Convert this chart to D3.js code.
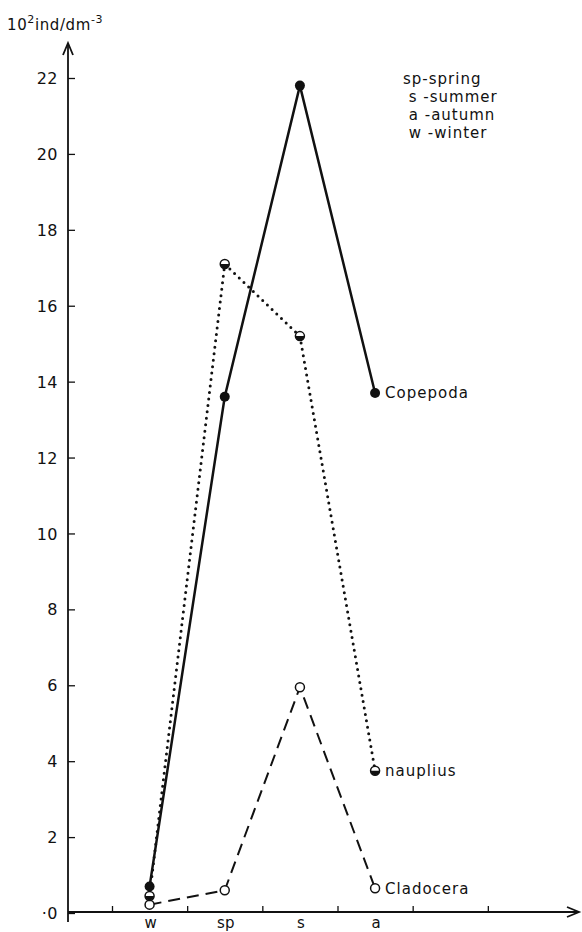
<!DOCTYPE html>
<html>
<head>
<meta charset="utf-8">
<script src="https://cdn.jsdelivr.net/npm/d3@7"></script>
<style>
  body { margin: 0; background: #fff; overflow: hidden; }
  text { font-family: "DejaVu Sans", sans-serif; fill: #111; }
</style>
</head>
<body>
<div id="svg"></div>
<script>
// datos del grafico
const estaciones = ["w", "sp", "s", "a"];
const copepoda = [0.7, 13.6, 21.8, 13.7];
const nauplius = [0.45, 17.1, 15.2, 3.75];
const cladocera = [0.22, 0.6, 5.95, 0.65];
const y_ticks = [0, 2, 4, 6, 8, 10, 12, 14, 16, 18, 20, 22];
const leyenda = ["sp-spring", " s -summer", " a -autumn", " w -winter"];

const width = 582;
const height = 932;

const svg = d3.select("#svg")
    .append("svg")
    .attr("width", width)
    .attr("height", height);

// escalas
const y = d3.scaleLinear().domain([0, 22]).range([913, 78]);
const x = d3.scaleLinear().domain([0, 6]).range([112, 563]);
const xEst = (i) => x(i + 0.5);

const ejeX0 = 68;
const y0 = y(0) - 1;

// eje Y
const ejeY = svg.append("g")
    .attr("transform", `translate(${ejeX0},0)`)
    .call(d3.axisLeft(y)
        .tickValues(y_ticks)
        .tickSize(-7)
        .tickPadding(10)
        .tickFormat((d) => d === 0 ? "·0" : d));
ejeY.select(".domain").remove();
ejeY.selectAll(".tick line").attr("stroke", "#111").attr("stroke-width", 1.3);
ejeY.selectAll("text")
    .style("font-size", "16px")
    .style("letter-spacing", "0.5px")
    .attr("dy", "0.35em");

svg.append("line")
    .attr("x1", ejeX0).attr("x2", ejeX0)
    .attr("y1", 43).attr("y2", 922)
    .attr("stroke", "#111").attr("stroke-width", 1.8);
svg.append("path")
    .attr("d", `M${ejeX0 - 5},55 L${ejeX0},43 L${ejeX0 + 5},55`)
    .attr("fill", "none").attr("stroke", "#111").attr("stroke-width", 1.8);

// eje X
const ejeX = svg.append("g")
    .attr("transform", `translate(0,${y0})`)
    .call(d3.axisBottom(x)
        .tickValues([0, 1, 2, 3, 4, 5])
        .tickSize(-6)
        .tickFormat(""));
ejeX.select(".domain").remove();
ejeX.selectAll(".tick line").attr("stroke", "#111").attr("stroke-width", 1.3);

svg.append("line")
    .attr("x1", ejeX0).attr("x2", 579)
    .attr("y1", y0).attr("y2", y0)
    .attr("stroke", "#111").attr("stroke-width", 1.8);
svg.append("path")
    .attr("d", `M567,${y0 - 5} L579,${y0} L567,${y0 + 5}`)
    .attr("fill", "none").attr("stroke", "#111").attr("stroke-width", 1.8);

svg.append("g")
    .selectAll("text")
    .data(estaciones)
    .join("text")
    .attr("x", (d, i) => xEst(i) + 1)
    .attr("y", 928)
    .attr("text-anchor", "middle")
    .style("font-size", "15px")
    .text((d) => d);

// titulo del eje
const titulo = svg.append("text")
    .attr("x", 7)
    .attr("y", 30)
    .style("font-size", "15px")
    .style("letter-spacing", "0.6px");
titulo.append("tspan").text("10");
titulo.append("tspan").attr("dy", -7).style("font-size", "11px").text("2");
titulo.append("tspan").attr("dy", 7).text("ind/dm");
titulo.append("tspan").attr("dy", -7).style("font-size", "11px").text("-3");

// leyenda
svg.append("g")
    .selectAll("text")
    .data(leyenda)
    .join("text")
    .attr("x", 403)
    .attr("y", (d, i) => 84 + i * 18)
    .attr("xml:space", "preserve")
    .style("white-space", "pre")
    .style("font-size", "15px")
    .style("letter-spacing", "1px")
    .text((d) => d);

// lineas
const linea = d3.line()
    .x((d, i) => xEst(i))
    .y((d) => y(d));

svg.append("path")
    .datum(nauplius)
    .attr("d", linea)
    .attr("fill", "none")
    .attr("stroke", "#111")
    .attr("stroke-width", 3)
    .attr("stroke-linecap", "round")
    .attr("stroke-dasharray", "0 6.5");

svg.append("path")
    .datum(cladocera)
    .attr("d", linea)
    .attr("fill", "none")
    .attr("stroke", "#111")
    .attr("stroke-width", 2)
    .attr("stroke-dasharray", "12 7");

svg.append("path")
    .datum(copepoda)
    .attr("d", linea)
    .attr("fill", "none")
    .attr("stroke", "#111")
    .attr("stroke-width", 2.5);

// marcadores
const r = 4.5;
svg.append("g")
    .selectAll("circle")
    .data(cladocera)
    .join("circle")
    .attr("cx", (d, i) => xEst(i))
    .attr("cy", (d) => y(d))
    .attr("r", r)
    .attr("fill", "#fff")
    .attr("stroke", "#111")
    .attr("stroke-width", 1.5);

const medio = svg.append("g")
    .selectAll("g")
    .data(nauplius)
    .join("g")
    .attr("transform", (d, i) => `translate(${xEst(i)},${y(d)})`);
medio.append("circle")
    .attr("r", r)
    .attr("fill", "#fff")
    .attr("stroke", "#111")
    .attr("stroke-width", 1.5);
medio.append("path")
    .attr("d", `M${-r},0 A${r},${r} 0 0 0 ${r},0 Z`)
    .attr("fill", "#111");

svg.append("g")
    .selectAll("circle")
    .data(copepoda)
    .join("circle")
    .attr("cx", (d, i) => xEst(i))
    .attr("cy", (d) => y(d))
    .attr("r", 5)
    .attr("fill", "#111");

// etiquetas de series
const etiquetas = [
    { nombre: "Copepoda", valor: copepoda[3] },
    { nombre: "nauplius", valor: nauplius[3] },
    { nombre: "Cladocera", valor: cladocera[3] },
];
svg.append("g")
    .selectAll("text")
    .data(etiquetas)
    .join("text")
    .attr("x", xEst(3) + 10)
    .attr("y", (d) => y(d.valor))
    .attr("dy", "0.35em")
    .style("font-size", "15px")
    .style("letter-spacing", "1px")
    .text((d) => d.nombre);
</script>
</body>
</html>
